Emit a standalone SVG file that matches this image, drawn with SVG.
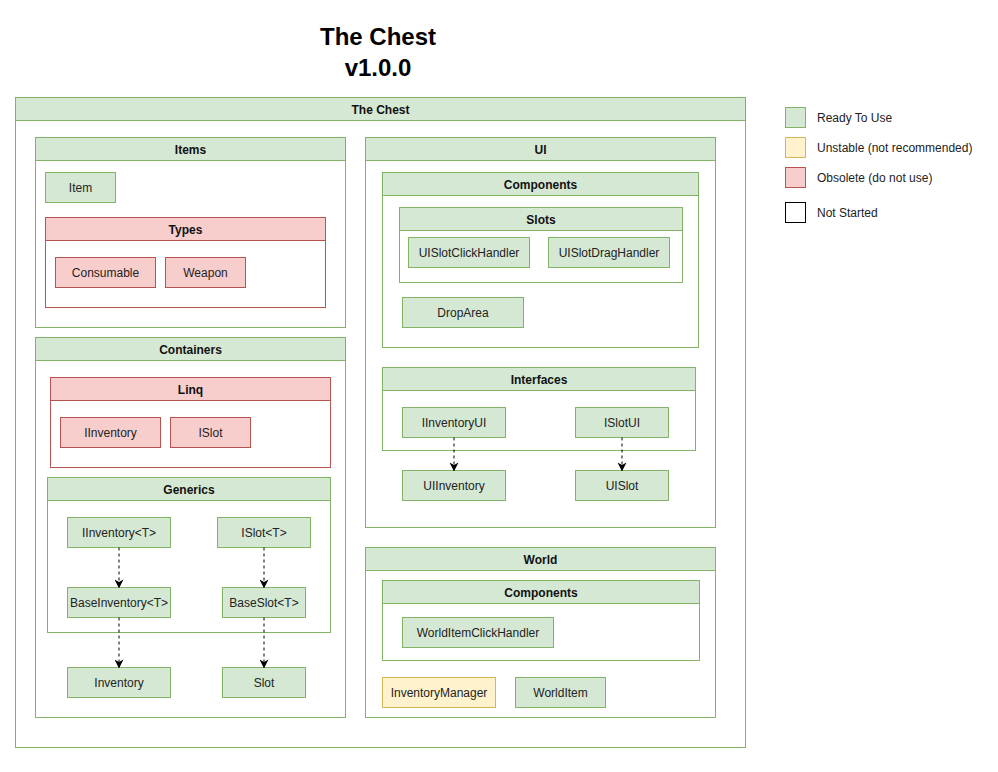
<svg xmlns="http://www.w3.org/2000/svg" width="998" height="772" viewBox="0 0 998 772">
<style>
text{font-family:"Liberation Sans",Arial,Helvetica,sans-serif;font-size:12px;text-anchor:middle;fill:#222}
.h{font-weight:bold;fill:#111}
.t{font-size:24px;font-weight:bold;fill:#000}
.lg{text-anchor:start}
.g{fill:#d5e8d4;stroke:#82b366}
.r{fill:#f8cecc;stroke:#b85450}
.y{fill:#fff2cc;stroke:#d6b656}
.w{fill:#fff;stroke:#82b366}
.wr{fill:#fff;stroke:#b85450}
.k{fill:#fff;stroke:#000}
.e{fill:none;stroke:#000;stroke-dasharray:3 3}
</style>
<defs>
<marker id="a" viewBox="0 0 10 10" refX="9" refY="5" markerWidth="9" markerHeight="9" markerUnits="userSpaceOnUse" orient="auto">
<path d="M0,0 L10,5 L0,10 L3,5 Z" fill="#000"/>
</marker>
</defs>
<rect width="998" height="772" fill="#fff"/>
<g id="title">
<text class="t" x="378" y="45">The Chest</text>
<text class="t" x="378" y="76">v1.0.0</text>
</g>
<g id="the-chest">
<rect class="w" x="15.5" y="97.5" width="730" height="650"/>
<rect class="g" x="15.5" y="97.5" width="730" height="23"/>
<text class="h" x="380.5" y="114">The Chest</text>
</g>
<g id="items">
<rect class="w" x="35.5" y="137.5" width="310" height="190"/>
<rect class="g" x="35.5" y="137.5" width="310" height="23"/>
<text class="h" x="190.5" y="154">Items</text>
</g>
<g id="item"><rect class="g" x="45.5" y="172.5" width="70" height="30"/><text x="80.5" y="192">Item</text></g>
<g id="types">
<rect class="wr" x="45.5" y="217.5" width="280" height="90"/>
<rect class="r" x="45.5" y="217.5" width="280" height="23"/>
<text class="h" x="185.5" y="234">Types</text>
</g>
<g id="consumable"><rect class="r" x="55.5" y="257.5" width="100" height="30"/><text x="105.5" y="277">Consumable</text></g>
<g id="weapon"><rect class="r" x="165.5" y="257.5" width="80" height="30"/><text x="205.5" y="277">Weapon</text></g>
<g id="containers">
<rect class="w" x="35.5" y="337.5" width="310" height="380"/>
<rect class="g" x="35.5" y="337.5" width="310" height="23"/>
<text class="h" x="190.5" y="354">Containers</text>
</g>
<g id="linq">
<rect class="wr" x="50.5" y="377.5" width="280" height="90"/>
<rect class="r" x="50.5" y="377.5" width="280" height="23"/>
<text class="h" x="190.5" y="394">Linq</text>
</g>
<g id="iinventory-linq"><rect class="r" x="60.5" y="417.5" width="100" height="30"/><text x="110.5" y="437">IInventory</text></g>
<g id="islot-linq"><rect class="r" x="170.5" y="417.5" width="80" height="30"/><text x="210.5" y="437">ISlot</text></g>
<g id="generics">
<rect class="w" x="47.5" y="477.5" width="283" height="155"/>
<rect class="g" x="47.5" y="477.5" width="283" height="23"/>
<text class="h" x="189" y="494">Generics</text>
</g>
<g id="iinventory-t"><rect class="g" x="67.5" y="517.5" width="103" height="30"/><text x="119" y="537">IInventory&lt;T&gt;</text></g>
<g id="islot-t"><rect class="g" x="217.5" y="517.5" width="93" height="30"/><text x="264" y="537">ISlot&lt;T&gt;</text></g>
<g id="baseinventory-t"><rect class="g" x="67.5" y="587.5" width="103" height="30"/><text x="119" y="607">BaseInventory&lt;T&gt;</text></g>
<g id="baseslot-t"><rect class="g" x="222.5" y="587.5" width="83" height="30"/><text x="264" y="607">BaseSlot&lt;T&gt;</text></g>
<g id="inventory"><rect class="g" x="67.5" y="667.5" width="103" height="30"/><text x="119" y="687">Inventory</text></g>
<g id="slot"><rect class="g" x="222.5" y="667.5" width="83" height="30"/><text x="264" y="687">Slot</text></g>
<g id="ui">
<rect class="w" x="365.5" y="137.5" width="350" height="390"/>
<rect class="g" x="365.5" y="137.5" width="350" height="23"/>
<text class="h" x="540.5" y="154">UI</text>
</g>
<g id="ui-components">
<rect class="w" x="382.5" y="172.5" width="316" height="175"/>
<rect class="g" x="382.5" y="172.5" width="316" height="23"/>
<text class="h" x="540.5" y="189">Components</text>
</g>
<g id="slots">
<rect class="w" x="399.5" y="207.5" width="283" height="75"/>
<rect class="g" x="399.5" y="207.5" width="283" height="23"/>
<text class="h" x="541" y="224">Slots</text>
</g>
<g id="uislotclickhandler"><rect class="g" x="408.5" y="237.5" width="121" height="30"/><text x="469" y="257">UISlotClickHandler</text></g>
<g id="uislotdraghandler"><rect class="g" x="548.5" y="237.5" width="121" height="30"/><text x="609" y="257">UISlotDragHandler</text></g>
<g id="droparea"><rect class="g" x="402.5" y="297.5" width="121" height="30"/><text x="463" y="317">DropArea</text></g>
<g id="interfaces">
<rect class="w" x="382.5" y="367.5" width="313" height="83"/>
<rect class="g" x="382.5" y="367.5" width="313" height="23"/>
<text class="h" x="539" y="384">Interfaces</text>
</g>
<g id="iinventoryui"><rect class="g" x="402.5" y="407.5" width="103" height="30"/><text x="454" y="427">IInventoryUI</text></g>
<g id="islotui"><rect class="g" x="575.5" y="407.5" width="93" height="30"/><text x="622" y="427">ISlotUI</text></g>
<g id="uiinventory"><rect class="g" x="402.5" y="470.5" width="103" height="30"/><text x="454" y="490">UIInventory</text></g>
<g id="uislot"><rect class="g" x="575.5" y="470.5" width="93" height="30"/><text x="622" y="490">UISlot</text></g>
<g id="world">
<rect class="w" x="365.5" y="547.5" width="350" height="170"/>
<rect class="g" x="365.5" y="547.5" width="350" height="23"/>
<text class="h" x="540.5" y="564">World</text>
</g>
<g id="world-components">
<rect class="w" x="382.5" y="580.5" width="317" height="80"/>
<rect class="g" x="382.5" y="580.5" width="317" height="23"/>
<text class="h" x="541" y="597">Components</text>
</g>
<g id="worlditemclickhandler"><rect class="g" x="402.5" y="617.5" width="151" height="30"/><text x="478" y="637">WorldItemClickHandler</text></g>
<g id="inventorymanager"><rect class="y" x="382.5" y="677.5" width="113" height="30"/><text x="439" y="697">InventoryManager</text></g>
<g id="worlditem"><rect class="g" x="515.5" y="677.5" width="90" height="30"/><text x="560.5" y="697">WorldItem</text></g>
<g id="connectors">
<path class="e" d="M119,547.5 V587.5" marker-end="url(#a)"/>
<path class="e" d="M264,547.5 V587.5" marker-end="url(#a)"/>
<path class="e" d="M119,617.5 V667.5" marker-end="url(#a)"/>
<path class="e" d="M264,617.5 V667.5" marker-end="url(#a)"/>
<path class="e" d="M454,437.5 V470.5" marker-end="url(#a)"/>
<path class="e" d="M622,437.5 V470.5" marker-end="url(#a)"/>
</g>
<g id="legend">
<rect class="g" x="785.5" y="107.5" width="20" height="20"/><text class="lg" x="817" y="121.5">Ready To Use</text>
<rect class="y" x="785.5" y="137.5" width="20" height="20"/><text class="lg" x="817" y="151.5">Unstable (not recommended)</text>
<rect class="r" x="785.5" y="167.5" width="20" height="20"/><text class="lg" x="817" y="181.5">Obsolete (do not use)</text>
<rect class="k" x="785.5" y="202.5" width="20" height="20"/><text class="lg" x="817" y="216.5">Not Started</text>
</g>
</svg>
